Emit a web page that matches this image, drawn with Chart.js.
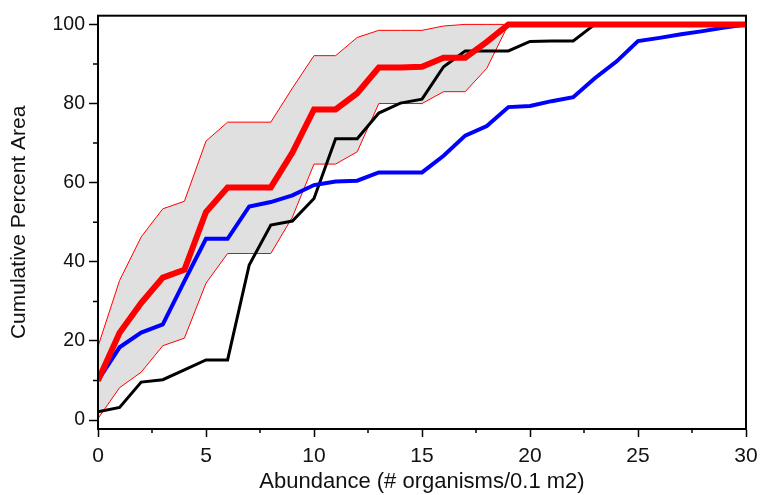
<!DOCTYPE html>
<html>
<head>
<meta charset="utf-8">
<script src="https://cdn.jsdelivr.net/npm/chart.js@4/dist/chart.umd.min.js"></script>
<style>
    html, body { margin: 0; padding: 0; background: #ffffff; }
    #wrap { width: 774px; height: 495px; }
</style>
</head>
<body>
<div id="wrap"><canvas id="areaChart"></canvas></div>
<script>
const abundance = [0, 1, 2, 3, 4, 5, 6, 7, 8, 9, 10, 11, 12, 13, 14, 15, 16, 17, 18, 19, 20, 21, 22, 23, 24, 25, 26, 27, 28, 29, 30];

const medianPct = [10, 22.1, 29.6, 36, 38, 52.6, 58.8, 58.8, 58.8, 67.6, 78.5, 78.5, 82.6, 89.1, 89.1, 89.3, 91.6, 91.6, 95.6, 100, 100, 100, 100, 100, 100, 100, 100, 100, 100, 100, 100];
const upperPct = [18.6, 35.3, 46.3, 53.4, 55.3, 70.5, 75.3, 75.3, 75.3, 83.9, 92.1, 92.1, 96.7, 98.5, 98.5, 98.5, 99.6, 100, 100, 100, 100, 100, 100, 100, 100, 100, 100, 100, 100, 100, 100];
const lowerPct = [0.4, 8.2, 12.1, 18.8, 20.7, 34.6, 42.1, 42.1, 42.1, 51.3, 64.7, 64.7, 67.8, 80, 80, 80, 83, 83, 88.9, 100, 100, 100, 100, 100, 100, 100, 100, 100, 100, 100, 100];
const bluePct = [10, 18.4, 22.1, 24.2, 35.1, 45.8, 45.8, 54, 55.1, 56.8, 59.4, 60.3, 60.5, 62.6, 62.6, 62.6, 66.8, 71.9, 74.3, 79.1, 79.4, 80.6, 81.6, 86.4, 90.6, 95.8, 96.6, 97.5, 98.3, 99.2, 100];
const blackPct = [2.1, 3.2, 9.6, 10.2, 12.7, 15.2, 15.2, 39.2, 49.3, 50.3, 56, 71.1, 71.1, 77.6, 80.1, 81.1, 89.3, 93.3, 93.3, 93.3, 95.7, 95.8, 95.8, 100, 100, 100, 100, 100, 100, 100, 100];

const xTicks = [0, 5, 10, 15, 20, 25, 30];
const xMinorTicks = [2.5, 7.5, 12.5, 17.5, 22.5, 27.5];
const yTicks = [0, 20, 40, 60, 80, 100];
const yMinorTicks = [10, 30, 50, 70, 90];

function toPoints(values) {
    return abundance.map((x, i) => ({ x: x, y: values[i] }));
}

// box round the plot area, plus the short minor tick marks
const frameBox = {
    id: 'frameBox',
    afterDraw(chart) {
        const a = chart.chartArea;
        const ctx = chart.ctx;
        const xs = chart.scales.x;
        const ys = chart.scales.y;
        ctx.save();
        ctx.strokeStyle = '#000000';
        ctx.lineWidth = 2;
        ctx.strokeRect(a.left, a.top, a.right - a.left, a.bottom - a.top);
        ctx.lineWidth = 1.5;
        ctx.beginPath();
        xMinorTicks.forEach(v => {
            const px = xs.getPixelForValue(v);
            ctx.moveTo(px, a.bottom);
            ctx.lineTo(px, a.bottom + 4);
        });
        yMinorTicks.forEach(v => {
            const py = ys.getPixelForValue(v);
            ctx.moveTo(a.left, py);
            ctx.lineTo(a.left - 5, py);
        });
        ctx.stroke();
        ctx.restore();
    }
};

const fontFamily = "'Liberation Sans', Arial, sans-serif";

new Chart(document.getElementById('areaChart').getContext('2d'), {
    type: 'line',
    data: {
        datasets: [
            {
                label: 'Upper',
                data: toPoints(upperPct),
                borderColor: '#ff0000',
                borderWidth: 1,
                backgroundColor: '#e0e0e0',
                fill: '+1',
                order: 10
            },
            {
                label: 'Lower',
                data: toPoints(lowerPct),
                borderColor: '#ff0000',
                borderWidth: 1,
                fill: false,
                order: 9
            },
            {
                label: 'Black',
                data: toPoints(blackPct),
                borderColor: '#000000',
                borderWidth: 3,
                fill: false,
                order: 3
            },
            {
                label: 'Blue',
                data: toPoints(bluePct),
                borderColor: '#0000ff',
                borderWidth: 4,
                fill: false,
                order: 2
            },
            {
                label: 'Median',
                data: toPoints(medianPct),
                borderColor: '#ff0000',
                borderWidth: 6,
                fill: false,
                order: 1
            }
        ]
    },
    options: {
        responsive: true,
        maintainAspectRatio: false,
        animation: false,
        events: [],
        elements: {
            point: { radius: 0 },
            line: { tension: 0, borderJoinStyle: 'miter' }
        },
        layout: {
            padding: { left: 0, top: 12, right: 28, bottom: 0 }
        },
        scales: {
            x: {
                type: 'linear',
                min: 0,
                max: 30,
                afterBuildTicks: scale => { scale.ticks = xTicks.map(v => ({ value: v })); },
                afterFit: scale => { scale.height = 66; },
                ticks: {
                    autoSkip: false,
                    maxRotation: 0,
                    padding: 7,
                    color: '#111111',
                    font: { family: fontFamily, size: 21 }
                },
                grid: {
                    drawOnChartArea: false,
                    drawTicks: true,
                    tickLength: 8,
                    tickWidth: 1.5,
                    tickColor: '#000000'
                },
                border: { display: true, color: '#000000', width: 2 },
                title: {
                    display: true,
                    text: 'Abundance (# organisms/0.1 m2)',
                    color: '#111111',
                    font: { family: fontFamily, size: 22 },
                    padding: { top: 0, bottom: 0 }
                }
            },
            y: {
                type: 'linear',
                min: -2.25,
                max: 102.2,
                afterBuildTicks: scale => { scale.ticks = yTicks.map(v => ({ value: v })); },
                afterFit: scale => { scale.width = 98; },
                ticks: {
                    autoSkip: false,
                    padding: 4,
                    color: '#111111',
                    font: { family: fontFamily, size: 19.5 }
                },
                grid: {
                    drawOnChartArea: false,
                    drawTicks: true,
                    tickLength: 9,
                    tickWidth: 1.5,
                    tickColor: '#000000'
                },
                border: { display: true, color: '#000000', width: 2 },
                title: {
                    display: true,
                    text: 'Cumulative Percent Area',
                    color: '#111111',
                    font: { family: fontFamily, size: 21 },
                    padding: { top: 7, bottom: 0 }
                }
            }
        },
        plugins: {
            legend: { display: false },
            tooltip: { enabled: false },
            filler: { drawTime: 'beforeDatasetsDraw' }
        }
    },
    plugins: [frameBox]
});
</script>
</body>
</html>
